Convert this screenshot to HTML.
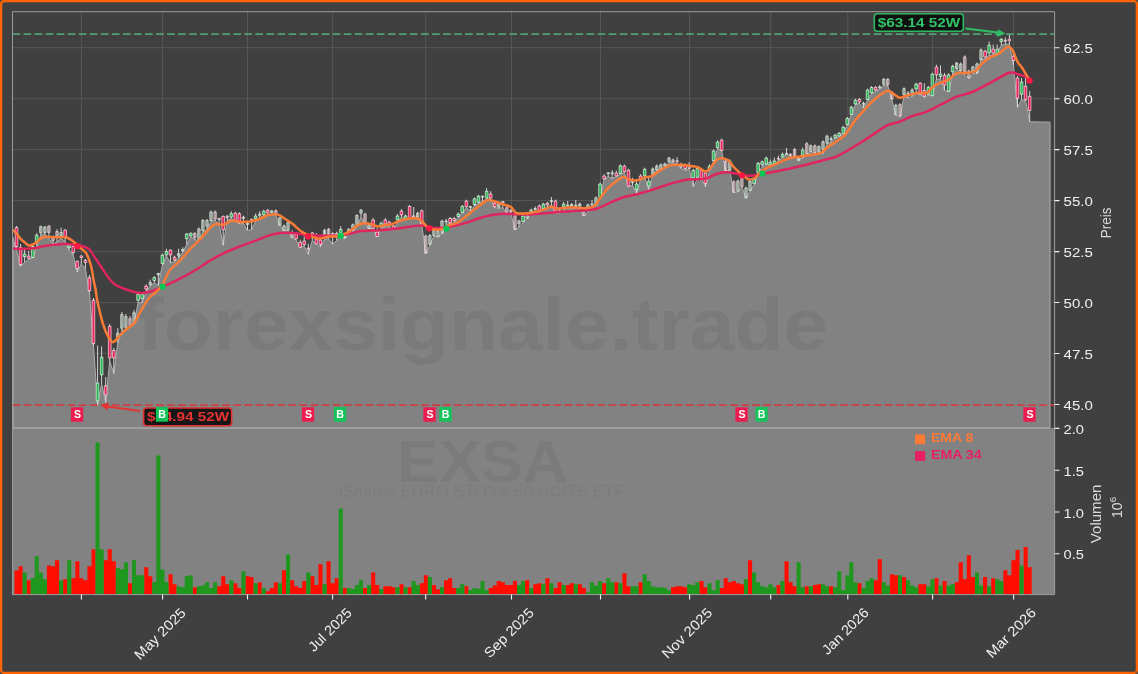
<!DOCTYPE html>
<html><head><meta charset="utf-8"><title>EXSA</title>
<style>html,body{margin:0;padding:0;background:#4a4a4a;width:1138px;height:674px;overflow:hidden;font-family:"Liberation Sans",sans-serif}</style>
</head><body>
<svg width="1138" height="674" viewBox="0 0 1138 674" style="position:absolute;left:0;top:0;will-change:transform;font-family:'Liberation Sans',sans-serif">
<defs><clipPath id="cu"><rect x="12.5" y="11.7" width="1042.1" height="416.0"/></clipPath></defs>
<rect x="0" y="0" width="1138" height="674" fill="#4a4a4a"/>
<rect x="1.1" y="1.1" width="1135.8" height="671.8" rx="3" ry="3" fill="#404040" stroke="#ff6302" stroke-width="2.3"/>
<path d="M81.4 11.7V427.7M162.6 11.7V427.7M247.5 11.7V427.7M332.6 11.7V427.7M425.7 11.7V427.7M511.5 11.7V427.7M600.5 11.7V427.7M689.6 11.7V427.7M770.7 11.7V427.7M847.8 11.7V427.7M932.6 11.7V427.7M1013.6 11.7V427.7M12.5 47.7H1054.6M12.5 98.7H1054.6M12.5 149.6H1054.6M12.5 200.6H1054.6M12.5 251.6H1054.6M12.5 302.5H1054.6M12.5 353.5H1054.6M12.5 404.5H1054.6" stroke="#575757" stroke-width="1" fill="none"/>
<rect x="12.5" y="427.7" width="1042.1" height="166.90000000000003" fill="#828282"/>
<g clip-path="url(#cu)"><path d="M12.5 237 L16.5 250 L20.6 266.5 L24.6 262.4 L28.7 259.2 L32.7 258 L36.8 247 L40.8 235.1 L44.9 233.9 L48.9 238.4 L53 243.7 L57 242 L61.1 238.4 L65.1 241.5 L69.2 250.5 L73.2 254.9 L77.3 272.2 L81.3 264 L85.4 268.4 L89.4 292.5 L93.5 345.5 L97.6 405.3 L101.6 384 L105.7 402.4 L109.7 361 L113.8 373.5 L117.8 342.7 L121.9 331 L125.9 329 L130 326.3 L134 324.7 L138.1 302.2 L142.1 303 L146.2 291.3 L150.2 286 L154.3 282.5 L158.3 285.4 L162.4 265 L166.4 255.8 L170.5 262.8 L174.6 261.4 L178.6 257.9 L182.7 252.2 L186.7 244.5 L190.8 236.7 L194.8 239.5 L198.9 241 L202.9 231.8 L207 229.7 L211 221.2 L215.1 220.5 L219.1 224 L223.2 245.2 L227.2 220.5 L231.3 218.4 L235.3 221.2 L239.4 224 L243.4 223.3 L247.5 230.4 L251.6 229.7 L255.6 221.2 L259.7 217.7 L263.7 215.7 L267.8 214.7 L271.8 214.6 L275.9 215.2 L279.9 225.3 L284 231 L288 230.4 L292.1 237.9 L296.1 239.8 L300.2 247.4 L304.2 246.1 L308.3 254.3 L312.3 240.4 L316.4 244.2 L320.4 246.8 L324.5 239.2 L328.6 238.6 L332.6 244.2 L336.7 240.4 L340.7 236.7 L344.8 238.6 L348.8 233.5 L352.9 231.6 L356.9 226.6 L361 217.1 L365 223.4 L369.1 228.5 L373.1 228.5 L377.2 236.7 L381.2 227.8 L385.3 226.6 L389.3 227.2 L393.4 230 L397.4 222.5 L401.5 216.6 L405.5 219.7 L409.6 219.1 L413.7 217.8 L417.7 217.8 L421.8 224.8 L425.8 253.8 L429.9 245 L433.9 236.1 L438 236.8 L442 233.6 L446.1 224.1 L450.1 223.5 L454.2 222.9 L458.2 217.2 L462.3 212.8 L466.3 207.7 L470.4 210.9 L474.4 205.9 L478.5 203.3 L482.5 201.4 L486.6 198.9 L490.7 198.9 L494.7 207.7 L498.8 208.4 L502.8 207.7 L506.9 213.4 L510.9 213.4 L515 229.8 L519 227.1 L523.1 222.3 L527.1 218.3 L531.2 214.3 L535.2 213.1 L539.3 211.8 L543.3 209.3 L547.4 206.8 L551.4 205.5 L555.5 213.1 L559.5 213.1 L563.6 209.3 L567.7 208.6 L571.7 209.3 L575.8 208.6 L579.8 209.3 L583.9 216.2 L587.9 211.8 L592 206.8 L596 205.5 L600.1 197.9 L604.1 179.6 L608.2 176.5 L612.2 178.4 L616.3 176.5 L620.3 174 L624.4 172.7 L628.4 186.6 L632.5 185.3 L636.5 193.5 L640.6 179.6 L644.7 176.5 L648.7 190.4 L652.8 174.4 L656.8 170.3 L660.9 169.1 L664.9 167.2 L669 162.2 L673 162.8 L677.1 163.5 L681.1 168.5 L685.2 170.4 L689.2 168.5 L693.3 186.8 L697.3 179.2 L701.4 178.6 L705.4 186.8 L709.5 170.4 L713.5 160.9 L717.6 148.3 L721.7 150.9 L725.7 171 L729.8 170.4 L733.8 192.5 L737.9 191.8 L741.9 186.8 L746 198.1 L750 191.2 L754.1 184.3 L758.1 173.6 L762.2 166.6 L766.2 164.1 L770.3 165.4 L774.3 163.5 L778.4 160.9 L782.4 157.7 L786.5 153.9 L790.5 156.3 L794.6 157 L798.7 158.9 L802.7 158.2 L806.8 154.5 L810.8 151.9 L814.9 153.8 L818.9 152.6 L823 153.8 L827 143.7 L831.1 142.5 L835.1 138.1 L839.2 136.2 L843.2 133.6 L847.3 124.8 L851.3 114.7 L855.4 104.6 L859.4 103.4 L863.5 107.8 L867.5 100.2 L871.6 93.9 L875.7 91.4 L879.7 88.9 L883.8 85.1 L887.8 85.7 L891.9 99.6 L895.9 115.4 L900 116.6 L904 96.4 L908.1 97.7 L912.1 96.5 L916.2 91.7 L920.2 94.3 L924.3 97.4 L928.3 95.1 L932.4 95.9 L936.4 79.5 L940.5 78.7 L944.5 90.4 L948.6 92 L952.7 74.8 L956.7 69.4 L960.8 71.7 L964.8 74.8 L968.9 78.7 L972.9 73.3 L977 74.1 L981 60 L985.1 58.5 L989.1 55.4 L993.2 54.6 L997.2 53 L1001.3 45.2 L1005.3 44.5 L1009.4 43.7 L1013.4 64.9 L1017.5 107.4 L1021.5 99.8 L1025.6 100.8 L1029.7 121.8 L1050 122.2 L1050.0 427.7 L12.5 427.7 Z" fill="#828282"/>
<path d="M12.5 237 L16.5 250 L20.6 266.5 L24.6 262.4 L28.7 259.2 L32.7 258 L36.8 247 L40.8 235.1 L44.9 233.9 L48.9 238.4 L53 243.7 L57 242 L61.1 238.4 L65.1 241.5 L69.2 250.5 L73.2 254.9 L77.3 272.2 L81.3 264 L85.4 268.4 L89.4 292.5 L93.5 345.5 L97.6 405.3 L101.6 384 L105.7 402.4 L109.7 361 L113.8 373.5 L117.8 342.7 L121.9 331 L125.9 329 L130 326.3 L134 324.7 L138.1 302.2 L142.1 303 L146.2 291.3 L150.2 286 L154.3 282.5 L158.3 285.4 L162.4 265 L166.4 255.8 L170.5 262.8 L174.6 261.4 L178.6 257.9 L182.7 252.2 L186.7 244.5 L190.8 236.7 L194.8 239.5 L198.9 241 L202.9 231.8 L207 229.7 L211 221.2 L215.1 220.5 L219.1 224 L223.2 245.2 L227.2 220.5 L231.3 218.4 L235.3 221.2 L239.4 224 L243.4 223.3 L247.5 230.4 L251.6 229.7 L255.6 221.2 L259.7 217.7 L263.7 215.7 L267.8 214.7 L271.8 214.6 L275.9 215.2 L279.9 225.3 L284 231 L288 230.4 L292.1 237.9 L296.1 239.8 L300.2 247.4 L304.2 246.1 L308.3 254.3 L312.3 240.4 L316.4 244.2 L320.4 246.8 L324.5 239.2 L328.6 238.6 L332.6 244.2 L336.7 240.4 L340.7 236.7 L344.8 238.6 L348.8 233.5 L352.9 231.6 L356.9 226.6 L361 217.1 L365 223.4 L369.1 228.5 L373.1 228.5 L377.2 236.7 L381.2 227.8 L385.3 226.6 L389.3 227.2 L393.4 230 L397.4 222.5 L401.5 216.6 L405.5 219.7 L409.6 219.1 L413.7 217.8 L417.7 217.8 L421.8 224.8 L425.8 253.8 L429.9 245 L433.9 236.1 L438 236.8 L442 233.6 L446.1 224.1 L450.1 223.5 L454.2 222.9 L458.2 217.2 L462.3 212.8 L466.3 207.7 L470.4 210.9 L474.4 205.9 L478.5 203.3 L482.5 201.4 L486.6 198.9 L490.7 198.9 L494.7 207.7 L498.8 208.4 L502.8 207.7 L506.9 213.4 L510.9 213.4 L515 229.8 L519 227.1 L523.1 222.3 L527.1 218.3 L531.2 214.3 L535.2 213.1 L539.3 211.8 L543.3 209.3 L547.4 206.8 L551.4 205.5 L555.5 213.1 L559.5 213.1 L563.6 209.3 L567.7 208.6 L571.7 209.3 L575.8 208.6 L579.8 209.3 L583.9 216.2 L587.9 211.8 L592 206.8 L596 205.5 L600.1 197.9 L604.1 179.6 L608.2 176.5 L612.2 178.4 L616.3 176.5 L620.3 174 L624.4 172.7 L628.4 186.6 L632.5 185.3 L636.5 193.5 L640.6 179.6 L644.7 176.5 L648.7 190.4 L652.8 174.4 L656.8 170.3 L660.9 169.1 L664.9 167.2 L669 162.2 L673 162.8 L677.1 163.5 L681.1 168.5 L685.2 170.4 L689.2 168.5 L693.3 186.8 L697.3 179.2 L701.4 178.6 L705.4 186.8 L709.5 170.4 L713.5 160.9 L717.6 148.3 L721.7 150.9 L725.7 171 L729.8 170.4 L733.8 192.5 L737.9 191.8 L741.9 186.8 L746 198.1 L750 191.2 L754.1 184.3 L758.1 173.6 L762.2 166.6 L766.2 164.1 L770.3 165.4 L774.3 163.5 L778.4 160.9 L782.4 157.7 L786.5 153.9 L790.5 156.3 L794.6 157 L798.7 158.9 L802.7 158.2 L806.8 154.5 L810.8 151.9 L814.9 153.8 L818.9 152.6 L823 153.8 L827 143.7 L831.1 142.5 L835.1 138.1 L839.2 136.2 L843.2 133.6 L847.3 124.8 L851.3 114.7 L855.4 104.6 L859.4 103.4 L863.5 107.8 L867.5 100.2 L871.6 93.9 L875.7 91.4 L879.7 88.9 L883.8 85.1 L887.8 85.7 L891.9 99.6 L895.9 115.4 L900 116.6 L904 96.4 L908.1 97.7 L912.1 96.5 L916.2 91.7 L920.2 94.3 L924.3 97.4 L928.3 95.1 L932.4 95.9 L936.4 79.5 L940.5 78.7 L944.5 90.4 L948.6 92 L952.7 74.8 L956.7 69.4 L960.8 71.7 L964.8 74.8 L968.9 78.7 L972.9 73.3 L977 74.1 L981 60 L985.1 58.5 L989.1 55.4 L993.2 54.6 L997.2 53 L1001.3 45.2 L1005.3 44.5 L1009.4 43.7 L1013.4 64.9 L1017.5 107.4 L1021.5 99.8 L1025.6 100.8 L1029.7 121.8 L1050 122.2 L1050.0 427.9 L13.1 427.9 L13.1 237" fill="none" stroke="#adadad" stroke-width="1" stroke-linejoin="round"/></g>
<text x="137" y="350" font-size="75" font-weight="bold" fill="#000" fill-opacity="0.055" textLength="691" lengthAdjust="spacingAndGlyphs">forexsignale.trade</text>
<text x="397" y="482" font-size="59" font-weight="bold" fill="#000" fill-opacity="0.05" textLength="171" lengthAdjust="spacingAndGlyphs">EXSA</text>
<text x="339" y="496.5" font-size="17" fill="#000" fill-opacity="0.045" textLength="285" lengthAdjust="spacingAndGlyphs">iShares EURO STOXX 50 UCITS ETF</text>
<path d="M14.5 594.6v-24.2h4.1V594.6zM18.5 594.6v-28.3h4.1V594.6zM26.6 594.6v-14.4h4.1V594.6zM46.9 594.6v-29.1h4.1V594.6zM50.9 594.6v-28.3h4.1V594.6zM55 594.6v-34.4h4.1V594.6zM63.1 594.6v-15.4h4.1V594.6zM71.2 594.6v-16.3h4.1V594.6zM75.3 594.6v-33.4h4.1V594.6zM79.3 594.6v-16.3h4.1V594.6zM83.4 594.6v-14.4h4.1V594.6zM87.4 594.6v-28.3h4.1V594.6zM91.5 594.6v-45.4h4.1V594.6zM103.6 594.6v-34.4h4.1V594.6zM107.7 594.6v-45.4h4.1V594.6zM111.7 594.6v-33.4h4.1V594.6zM127.9 594.6v-11.4h4.1V594.6zM144.2 594.6v-27.4h4.1V594.6zM148.2 594.6v-18.4h4.1V594.6zM168.5 594.6v-20.3h4.1V594.6zM172.5 594.6v-10.4h4.1V594.6zM192.8 594.6v-7.4h4.1V594.6zM217.1 594.6v-8.4h4.1V594.6zM221.2 594.6v-18.4h4.1V594.6zM225.2 594.6v-10.4h4.1V594.6zM233.3 594.6v-11.4h4.1V594.6zM237.4 594.6v-6.5h4.1V594.6zM245.5 594.6v-18.4h4.1V594.6zM249.5 594.6v-17.6h4.1V594.6zM257.6 594.6v-12.3h4.1V594.6zM265.7 594.6v-3.4h4.1V594.6zM269.8 594.6v-6.5h4.1V594.6zM273.8 594.6v-12.3h4.1V594.6zM281.9 594.6v-24.3h4.1V594.6zM290.1 594.6v-14.4h4.1V594.6zM294.1 594.6v-8.4h4.1V594.6zM298.2 594.6v-6.5h4.1V594.6zM302.2 594.6v-13.5h4.1V594.6zM310.3 594.6v-18.4h4.1V594.6zM314.4 594.6v-9.5h4.1V594.6zM318.4 594.6v-30.4h4.1V594.6zM326.5 594.6v-33.4h4.1V594.6zM330.6 594.6v-11.4h4.1V594.6zM334.6 594.6v-16.3h4.1V594.6zM342.7 594.6v-6.5h4.1V594.6zM363 594.6v-6.5h4.1V594.6zM371.1 594.6v-22.1h4.1V594.6zM375.2 594.6v-9.5h4.1V594.6zM383.3 594.6v-8.4h4.1V594.6zM387.3 594.6v-8.4h4.1V594.6zM391.4 594.6v-7.4h4.1V594.6zM399.5 594.6v-10.4h4.1V594.6zM407.6 594.6v-7.4h4.1V594.6zM419.7 594.6v-11.4h4.1V594.6zM423.8 594.6v-19.4h4.1V594.6zM431.9 594.6v-9.5h4.1V594.6zM435.9 594.6v-5.3h4.1V594.6zM444 594.6v-14.4h4.1V594.6zM448.1 594.6v-16.3h4.1V594.6zM452.2 594.6v-6.5h4.1V594.6zM464.3 594.6v-8.4h4.1V594.6zM488.6 594.6v-6.5h4.1V594.6zM492.7 594.6v-9.2h4.1V594.6zM496.7 594.6v-13.5h4.1V594.6zM500.8 594.6v-12.3h4.1V594.6zM504.8 594.6v-9.5h4.1V594.6zM508.9 594.6v-9.5h4.1V594.6zM512.9 594.6v-13.5h4.1V594.6zM525.1 594.6v-14.4h4.1V594.6zM533.2 594.6v-10.4h4.1V594.6zM537.3 594.6v-11.4h4.1V594.6zM545.4 594.6v-16.3h4.1V594.6zM553.5 594.6v-6.5h4.1V594.6zM557.5 594.6v-12.3h4.1V594.6zM565.6 594.6v-9.5h4.1V594.6zM569.7 594.6v-11.4h4.1V594.6zM577.8 594.6v-10.4h4.1V594.6zM581.8 594.6v-6.5h4.1V594.6zM602.1 594.6v-11.4h4.1V594.6zM614.3 594.6v-12.3h4.1V594.6zM622.4 594.6v-21.3h4.1V594.6zM626.4 594.6v-8.4h4.1V594.6zM638.6 594.6v-12.3h4.1V594.6zM671 594.6v-7.4h4.1V594.6zM675 594.6v-8.4h4.1V594.6zM679.1 594.6v-8.4h4.1V594.6zM683.2 594.6v-7.4h4.1V594.6zM699.4 594.6v-13.5h4.1V594.6zM703.4 594.6v-7.4h4.1V594.6zM719.6 594.6v-6.5h4.1V594.6zM723.7 594.6v-16.3h4.1V594.6zM727.7 594.6v-12.3h4.1V594.6zM731.8 594.6v-13.5h4.1V594.6zM735.8 594.6v-11.4h4.1V594.6zM739.9 594.6v-10.4h4.1V594.6zM748 594.6v-34.4h4.1V594.6zM776.4 594.6v-9.5h4.1V594.6zM784.5 594.6v-33.4h4.1V594.6zM788.5 594.6v-12.3h4.1V594.6zM792.6 594.6v-8.4h4.1V594.6zM804.7 594.6v-8.4h4.1V594.6zM812.8 594.6v-9.5h4.1V594.6zM816.9 594.6v-10.4h4.1V594.6zM829 594.6v-8.4h4.1V594.6zM857.4 594.6v-11.4h4.1V594.6zM873.6 594.6v-14.4h4.1V594.6zM877.7 594.6v-35.4h4.1V594.6zM889.8 594.6v-20.3h4.1V594.6zM893.9 594.6v-19.4h4.1V594.6zM902 594.6v-17.6h4.1V594.6zM918.2 594.6v-10.4h4.1V594.6zM922.3 594.6v-10.4h4.1V594.6zM934.4 594.6v-16.3h4.1V594.6zM942.5 594.6v-13.5h4.1V594.6zM954.7 594.6v-12.3h4.1V594.6zM958.7 594.6v-32.3h4.1V594.6zM962.8 594.6v-15.4h4.1V594.6zM966.8 594.6v-39.4h4.1V594.6zM970.9 594.6v-17.6h4.1V594.6zM983 594.6v-17.6h4.1V594.6zM991.2 594.6v-16.3h4.1V594.6zM1003.3 594.6v-24.3h4.1V594.6zM1007.4 594.6v-19.4h4.1V594.6zM1011.4 594.6v-34.4h4.1V594.6zM1015.5 594.6v-44.5h4.1V594.6zM1023.6 594.6v-47.6h4.1V594.6zM1027.6 594.6v-27.4h4.1V594.6z" fill="#ff0d00"/>
<path d="M22.6 594.6v-22.1h4.1V594.6zM30.7 594.6v-16.6h4.1V594.6zM34.7 594.6v-38.4h4.1V594.6zM38.8 594.6v-22.1h4.1V594.6zM42.8 594.6v-15.4h4.1V594.6zM59.1 594.6v-14.4h4.1V594.6zM67.2 594.6v-34.4h4.1V594.6zM95.5 594.6v-152h4.1V594.6zM99.6 594.6v-45.4h4.1V594.6zM115.8 594.6v-26.4h4.1V594.6zM119.8 594.6v-25.4h4.1V594.6zM123.9 594.6v-32.3h4.1V594.6zM132 594.6v-34.4h4.1V594.6zM136.1 594.6v-19.4h4.1V594.6zM140.1 594.6v-19.4h4.1V594.6zM152.3 594.6v-12.5h4.1V594.6zM156.3 594.6v-139.1h4.1V594.6zM160.4 594.6v-25.2h4.1V594.6zM164.4 594.6v-12.5h4.1V594.6zM176.6 594.6v-8.4h4.1V594.6zM180.6 594.6v-7.4h4.1V594.6zM184.7 594.6v-18.4h4.1V594.6zM188.7 594.6v-19.4h4.1V594.6zM196.8 594.6v-8.4h4.1V594.6zM200.9 594.6v-9.2h4.1V594.6zM204.9 594.6v-12.3h4.1V594.6zM209 594.6v-6.5h4.1V594.6zM213.1 594.6v-12.3h4.1V594.6zM229.3 594.6v-14.4h4.1V594.6zM241.4 594.6v-23.4h4.1V594.6zM253.6 594.6v-11.4h4.1V594.6zM261.7 594.6v-6.5h4.1V594.6zM277.9 594.6v-11.4h4.1V594.6zM286 594.6v-40.2h4.1V594.6zM306.3 594.6v-22.1h4.1V594.6zM322.5 594.6v-10.4h4.1V594.6zM338.7 594.6v-86.1h4.1V594.6zM346.8 594.6v-6.5h4.1V594.6zM350.8 594.6v-5.5h4.1V594.6zM354.9 594.6v-9.5h4.1V594.6zM358.9 594.6v-14.4h4.1V594.6zM367 594.6v-9.5h4.1V594.6zM379.2 594.6v-5.5h4.1V594.6zM395.4 594.6v-7.4h4.1V594.6zM403.5 594.6v-7.4h4.1V594.6zM411.6 594.6v-13.5h4.1V594.6zM415.7 594.6v-9.5h4.1V594.6zM427.8 594.6v-17.6h4.1V594.6zM440 594.6v-7.4h4.1V594.6zM456.2 594.6v-6.5h4.1V594.6zM460.3 594.6v-10.4h4.1V594.6zM468.4 594.6v-4.3h4.1V594.6zM472.4 594.6v-6.5h4.1V594.6zM476.5 594.6v-5.8h4.1V594.6zM480.5 594.6v-13.5h4.1V594.6zM484.6 594.6v-4.3h4.1V594.6zM517 594.6v-9.5h4.1V594.6zM521 594.6v-13.5h4.1V594.6zM529.2 594.6v-6.5h4.1V594.6zM541.3 594.6v-10.4h4.1V594.6zM549.4 594.6v-11.4h4.1V594.6zM561.6 594.6v-9.5h4.1V594.6zM573.7 594.6v-10.4h4.1V594.6zM585.9 594.6v-2.4h4.1V594.6zM589.9 594.6v-12.3h4.1V594.6zM594 594.6v-9.2h4.1V594.6zM598 594.6v-13.5h4.1V594.6zM606.2 594.6v-16.3h4.1V594.6zM610.2 594.6v-12.3h4.1V594.6zM618.3 594.6v-11.4h4.1V594.6zM630.5 594.6v-8.4h4.1V594.6zM634.5 594.6v-8.4h4.1V594.6zM642.6 594.6v-20.3h4.1V594.6zM646.7 594.6v-13.5h4.1V594.6zM650.7 594.6v-8.4h4.1V594.6zM654.8 594.6v-7.4h4.1V594.6zM658.8 594.6v-7.4h4.1V594.6zM662.9 594.6v-6.5h4.1V594.6zM666.9 594.6v-4.3h4.1V594.6zM687.2 594.6v-10.4h4.1V594.6zM691.3 594.6v-9.5h4.1V594.6zM695.3 594.6v-12.3h4.1V594.6zM707.5 594.6v-11.4h4.1V594.6zM711.5 594.6v-4.3h4.1V594.6zM715.6 594.6v-14.4h4.1V594.6zM743.9 594.6v-15.4h4.1V594.6zM752 594.6v-22.1h4.1V594.6zM756.1 594.6v-12.3h4.1V594.6zM760.2 594.6v-8.4h4.1V594.6zM764.2 594.6v-7.4h4.1V594.6zM768.3 594.6v-10.4h4.1V594.6zM772.3 594.6v-7.4h4.1V594.6zM780.4 594.6v-13.5h4.1V594.6zM796.6 594.6v-32.3h4.1V594.6zM800.7 594.6v-7.4h4.1V594.6zM808.8 594.6v-8.4h4.1V594.6zM820.9 594.6v-10.4h4.1V594.6zM825 594.6v-8.4h4.1V594.6zM833.1 594.6v-7.4h4.1V594.6zM837.2 594.6v-23.4h4.1V594.6zM841.2 594.6v-4.3h4.1V594.6zM845.3 594.6v-19.4h4.1V594.6zM849.3 594.6v-32.3h4.1V594.6zM853.4 594.6v-12.3h4.1V594.6zM861.5 594.6v-6.5h4.1V594.6zM865.5 594.6v-13.5h4.1V594.6zM869.6 594.6v-16.3h4.1V594.6zM881.7 594.6v-12.3h4.1V594.6zM885.8 594.6v-9.2h4.1V594.6zM897.9 594.6v-19.4h4.1V594.6zM906 594.6v-14.4h4.1V594.6zM910.1 594.6v-9.2h4.1V594.6zM914.2 594.6v-7.4h4.1V594.6zM926.3 594.6v-8.4h4.1V594.6zM930.4 594.6v-15.4h4.1V594.6zM938.5 594.6v-9.2h4.1V594.6zM946.6 594.6v-9.2h4.1V594.6zM950.6 594.6v-10.4h4.1V594.6zM974.9 594.6v-22.1h4.1V594.6zM979 594.6v-9.2h4.1V594.6zM987.1 594.6v-8.4h4.1V594.6zM995.2 594.6v-15.4h4.1V594.6zM999.3 594.6v-13.5h4.1V594.6zM1019.5 594.6v-29.1h4.1V594.6z" fill="#1f971f"/>
<g clip-path="url(#cu)"><path d="M16.5 226V250M20.6 244V266.5M24.6 248.5V262.4M28.7 251V259.2M32.7 245V258M36.8 233V247M40.8 225.7V235.1M44.9 226.1V233.9M48.9 225.2V238.4M53 235.5V243.7M57 229.2V242M61.1 227.5V238.4M65.1 229V241.5M69.2 244.8V250.5M73.2 245.3V254.9M77.3 260.4V272.2M81.3 255.1V264M85.4 259V268.4M89.4 275V292.5M93.5 298V345.5M97.6 345.6V405.3M101.6 346.5V384M105.7 377V402.4M109.7 324V361M113.8 348V373.5M117.8 328.2V342.7M121.9 312V331M125.9 314V329M130 316V326.3M134 310V324.7M138.1 292V302.2M142.1 292.3V303M146.2 284.5V291.3M150.2 279.7V286M154.3 276.1V282.5M158.3 272.7V285.4M162.4 253.6V265M166.4 248.7V255.8M170.5 249.4V262.8M174.6 255.7V261.4M178.6 248.7V257.9M182.7 247.3V252.2M186.7 233.2V244.5M190.8 232.5V236.7M194.8 232.5V239.5M198.9 227.5V241M202.9 219V231.8M207 219V229.7M211 210.5V221.2M215.1 210.5V220.5M219.1 217.7V224M223.2 215.6V245.2M227.2 214.9V220.5M231.3 211.3V218.4M235.3 211.7V221.2M239.4 212.2V224M243.4 215.6V223.3M247.5 221.9V230.4M251.6 219V229.7M255.6 213.5V221.2M259.7 211.3V217.7M263.7 209.8V215.7M267.8 208.9V214.7M271.8 210.2V214.6M275.9 209.4V215.2M279.9 216.5V225.3M284 224.5V231M288 221.4V230.4M292.1 230.2V237.9M296.1 233V239.8M300.2 239.6V247.4M304.2 236.5V246.1M308.3 243.6V254.3M312.3 232V240.4M316.4 232.9V244.2M320.4 238V246.8M324.5 228.9V239.2M328.6 227.9V238.6M332.6 232.5V244.2M336.7 231.6V240.4M340.7 226.2V236.7M344.8 235V238.6M348.8 228V233.5M352.9 223.5V231.6M356.9 214.2V226.6M361 209V217.1M365 212.8V223.4M369.1 223.9V228.5M373.1 218.1V228.5M377.2 227.9V236.7M381.2 221.7V227.8M385.3 218.1V226.6M389.3 220.8V227.2M393.4 224.8V230M397.4 214.1V222.5M401.5 209.2V216.6M405.5 214.6V219.7M409.6 205V219.1M413.7 207V217.8M417.7 211.9V217.8M421.8 209.5V224.8M425.8 234.6V253.8M429.9 234V245M433.9 229.1V236.1M438 230V236.8M442 219.7V233.6M446.1 218.8V224.1M450.1 217.1V223.5M454.2 217.1V222.9M458.2 212.6V217.2M462.3 205.1V212.8M466.3 199.7V207.7M470.4 206V210.9M474.4 197.5V205.9M478.5 194.8V203.3M482.5 195.6V201.4M486.6 188.1V198.9M490.7 191.2V198.9M494.7 201.9V207.7M498.8 202.8V208.4M502.8 201V207.7M506.9 206.4V213.4M510.9 209.1V213.4M515 214.4V229.8M519 219.7V227.1M523.1 214.8V222.3M527.1 213.9V218.3M531.2 208.6V214.3M535.2 206.4V213.1M539.3 204.6V211.8M543.3 202.8V209.3M547.4 201.9V206.8M551.4 197V205.5M555.5 199.6V213.1M559.5 208.6V213.1M563.6 201.9V209.3M567.7 201V208.6M571.7 203V209.3M575.8 200V208.6M579.8 202.7V209.3M583.9 208V216.2M587.9 203.6V211.8M592 200V206.8M596 196.5V205.5M600.1 182.5V197.9M604.1 174.2V179.6M608.2 172V176.5M612.2 170.2V178.4M616.3 170.7V176.5M620.3 164.3V174M624.4 164.6V172.7M628.4 168.7V186.6M632.5 177.8V185.3M636.5 181V193.5M640.6 174.2V179.6M644.7 167.7V176.5M648.7 178V190.4M652.8 167.4V174.4M656.8 164.5V170.3M660.9 163.5V169.1M664.9 162.6V167.2M669 156.8V162.2M673 158.6V162.8M677.1 157.2V163.5M681.1 162.6V168.5M685.2 163.5V170.4M689.2 162.1V168.5M693.3 168.9V186.8M697.3 167V179.2M701.4 168.9V178.6M705.4 171.4V186.8M709.5 164.4V170.4M713.5 149.4V160.9M717.6 140.5V148.3M721.7 138.6V150.9M725.7 159.5V171M729.8 159.5V170.4M733.8 180.3V192.5M737.9 179.6V191.8M741.9 177.1V186.8M746 186.5V198.1M750 179.6V191.2M754.1 177.7V184.3M758.1 162V173.6M762.2 160.5V166.6M766.2 156.5V164.1M770.3 159.6V165.4M774.3 157.4V163.6M778.4 155.6V160.9M782.4 152.5V157.7M786.5 148V154.3M790.5 153.4V156.3M794.6 147.9V157M798.7 157V160.5M802.7 147.6V158.2M806.8 142.2V154.5M810.8 144.5V151.9M814.9 144.5V153.8M818.9 145.4V152.6M823 140.3V153.8M827 134.7V143.7M831.1 136.5V142.5M835.1 133.8V138.1M839.2 132V136.2M843.2 125.8V133.6M847.3 117V124.8M851.3 105.7V114.7M855.4 98.7V104.6M859.4 98V103.4M863.5 101.6V107.8M867.5 88.6V100.2M871.6 86.1V93.9M875.7 86V91.4M879.7 85.1V88.9M883.8 78V85.1M887.8 78V85.7M891.9 91.2V99.6M895.9 103.8V115.4M900 103.1V116.6M904 87.4V96.4M908.1 91V97.7M912.1 88.2V96.5M916.2 82.7V91.7M920.2 82V94.3M924.3 83.3V97.4M928.3 85.8V95.1M932.4 72.6V95.9M936.4 64.7V79.5M940.5 65.5V78.7M944.5 73V90.4M948.6 73.3V92M952.7 64.8V74.8M956.7 62V69.4M960.8 62.4V71.7M964.8 55.4V74.8M968.9 69.7V78.7M972.9 65.7V73.3M977 62.4V74.1M981 48.4V60M985.1 49.7V58.5M989.1 41.5V55.4M993.2 44.5V54.6M997.2 44.5V53M1001.3 38V45.2M1005.3 37.5V44.5M1009.4 34.3V43.7M1013.4 52V64.9M1017.5 76V107.4M1021.5 78V99.8M1025.6 78V100.8M1029.7 91.2V121.8" stroke="#e2e2e2" stroke-width="0.9" fill="none"/>
<path d="M15.2 227.5h2.7V246.5h-2.7zM19.2 247.5h2.7V264.4h-2.7zM27.3 256h2.7V258.2h-2.7zM63.8 230.1h2.7V237.3h-2.7zM71.9 246.2h2.7V252.4h-2.7zM75.9 261.3h2.7V268.4h-2.7zM80 256h2.7V257.5h-2.7zM84 260.4h2.7V262.6h-2.7zM88.1 277.8h2.7V290.8h-2.7zM92.1 300.2h2.7V343.6h-2.7zM104.3 385.7h2.7V395h-2.7zM108.4 326.3h2.7V358h-2.7zM112.4 350.4h2.7V358h-2.7zM144.8 286h2.7V289h-2.7zM169.1 250.1h2.7V255h-2.7zM173.2 257.2h2.7V260h-2.7zM221.8 216.3h2.7V229.7h-2.7zM234 213.2h2.7V220.5h-2.7zM238 213.7h2.7V222.6h-2.7zM266.4 210.2h2.7V212.9h-2.7zM294.8 234.3h2.7V238.7h-2.7zM298.8 242.3h2.7V247.2h-2.7zM302.9 240.9h2.7V244.5h-2.7zM311 232.9h2.7V234.3h-2.7zM315 239.1h2.7V244h-2.7zM319.1 240h2.7V244.5h-2.7zM331.3 233.4h2.7V235.1h-2.7zM335.3 233.4h2.7V235.1h-2.7zM371.8 219.9h2.7V228.3h-2.7zM375.8 231.9h2.7V236.4h-2.7zM383.9 219.9h2.7V223.9h-2.7zM388 222.1h2.7V225.2h-2.7zM392 226.1h2.7V228.8h-2.7zM400.1 211h2.7V215h-2.7zM408.3 206.5h2.7V218.5h-2.7zM420.4 210.8h2.7V224.1h-2.7zM448.8 218.4h2.7V222.8h-2.7zM452.8 218.4h2.7V220.6h-2.7zM465 201h2.7V206.8h-2.7zM489.3 193.9h2.7V197.9h-2.7zM493.4 203.2h2.7V206.8h-2.7zM537.9 205.9h2.7V210.4h-2.7zM546 203.2h2.7V205h-2.7zM554.1 201.1h2.7V211.2h-2.7zM602.8 176h2.7V179.1h-2.7zM614.9 172.9h2.7V176h-2.7zM623 166.1h2.7V171.7h-2.7zM627.1 170.2h2.7V186.2h-2.7zM639.3 176h2.7V178.7h-2.7zM683.8 165.2h2.7V168.4h-2.7zM700 170.4h2.7V178h-2.7zM704.1 172.9h2.7V183.6h-2.7zM720.3 140.1h2.7V150.6h-2.7zM858.1 99.4h2.7V102h-2.7zM874.3 87.3h2.7V90h-2.7zM918.9 83.3h2.7V94.3h-2.7zM922.9 90.5h2.7V96.2h-2.7zM935.1 67.1h2.7V74.8h-2.7zM943.2 75.6h2.7V85h-2.7zM983.7 51.2h2.7V56.9h-2.7zM991.8 49.1h2.7V53h-2.7zM1008 39.2h2.7V40.8h-2.7zM1012.1 56.2h2.7V60.5h-2.7zM1016.1 78h2.7V98.2h-2.7zM1024.2 86.2h2.7V99.8h-2.7zM1028.3 96.3h2.7V110.4h-2.7z" fill="#f9c3d2" stroke="#fbd9e2" stroke-width="0.6"/>
<path d="M23.3 254h2.7V256.6h-2.7zM31.4 246.5h2.7V257.5h-2.7zM35.4 235.3h2.7V241.7h-2.7zM67.8 245.3h2.7V247.5h-2.7zM96.2 383h2.7V401h-2.7zM100.3 357h2.7V375h-2.7zM136.7 294.5h2.7V300.2h-2.7zM140.8 293.8h2.7V298.8h-2.7zM152.9 277.6h2.7V280.4h-2.7zM161 255h2.7V263.5h-2.7zM165.1 251.5h2.7V255h-2.7zM185.4 233.9h2.7V238.8h-2.7zM189.4 233.2h2.7V236h-2.7zM229.9 213.7h2.7V217h-2.7zM254.3 216h2.7V218.8h-2.7zM262.4 211.1h2.7V214.7h-2.7zM339.4 229.4h2.7V232.6h-2.7zM379.9 223h2.7V225.7h-2.7zM396.1 215.9h2.7V219.9h-2.7zM404.2 215.9h2.7V219.5h-2.7zM456.9 213.9h2.7V216.6h-2.7zM460.9 206.4h2.7V212.6h-2.7zM473.1 198.8h2.7V204.6h-2.7zM477.1 196.1h2.7V202.3h-2.7zM485.3 191.2h2.7V197.9h-2.7zM521.7 216.1h2.7V221.5h-2.7zM529.8 210h2.7V211.8h-2.7zM542 204.1h2.7V208.6h-2.7zM562.3 204.1h2.7V206.8h-2.7zM598.7 184h2.7V197.3h-2.7zM619 165.8h2.7V173.3h-2.7zM635.2 184h2.7V189.7h-2.7zM643.3 169.2h2.7V175.9h-2.7zM647.4 181.3h2.7V185.9h-2.7zM691.9 170.4h2.7V178h-2.7zM696 168.5h2.7V177.3h-2.7zM708.1 166.1h2.7V169.3h-2.7zM712.2 150.9h2.7V160.6h-2.7zM716.2 142h2.7V147.7h-2.7zM752.7 179.2h2.7V183.6h-2.7zM756.8 163.5h2.7V172.9h-2.7zM760.8 161.8h2.7V164.5h-2.7zM764.9 158h2.7V164h-2.7zM768.9 162.3h2.7V164.9h-2.7zM773 160.9h2.7V163.6h-2.7zM781.1 154.3h2.7V156.9h-2.7zM801.4 150.2h2.7V155.1h-2.7zM833.8 135.1h2.7V137.8h-2.7zM837.8 133.3h2.7V136h-2.7zM841.9 127.3h2.7V133.4h-2.7zM845.9 118.5h2.7V124.6h-2.7zM850 107.2h2.7V114.5h-2.7zM854 100.2h2.7V104h-2.7zM866.2 90.1h2.7V99.6h-2.7zM870.2 87.6h2.7V92.7h-2.7zM914.8 84.2h2.7V88.9h-2.7zM927 87.3h2.7V94.3h-2.7zM931 74.1h2.7V95.7h-2.7zM939.1 74h2.7V76.4h-2.7zM947.2 74.8h2.7V91.2h-2.7zM951.3 66.3h2.7V71.7h-2.7zM987.8 45.2h2.7V53h-2.7zM995.9 49.1h2.7V53.4h-2.7zM999.9 39.3h2.7V41.4h-2.7zM1020.2 81.9h2.7V94.3h-2.7z" fill="#c6ecce" stroke="#dcf3e0" stroke-width="0.6"/>
<path d="M15.6 228h1.9V246h-1.9zM19.6 248h1.9V263.9h-1.9zM27.7 256.5h1.9V257.7h-1.9zM64.2 230.6h1.9V236.8h-1.9zM72.3 246.7h1.9V251.9h-1.9zM76.3 261.8h1.9V267.9h-1.9zM80.5 256.3h1.6V257.2h-1.6zM84.4 260.9h1.9V262.1h-1.9zM88.5 278.3h1.9V290.3h-1.9zM92.5 300.7h1.9V343.1h-1.9zM104.7 386.2h1.9V394.5h-1.9zM108.8 326.8h1.9V357.5h-1.9zM112.8 350.9h1.9V357.5h-1.9zM145.2 286.5h1.9V288.5h-1.9zM169.5 250.6h1.9V254.5h-1.9zM173.6 257.7h1.9V259.5h-1.9zM222.2 216.8h1.9V229.2h-1.9zM234.4 213.7h1.9V220h-1.9zM238.4 214.2h1.9V222.1h-1.9zM266.8 210.7h1.9V212.4h-1.9zM295.2 234.8h1.9V238.2h-1.9zM299.2 242.8h1.9V246.7h-1.9zM303.3 241.4h1.9V244h-1.9zM311.5 233.2h1.6V234h-1.6zM315.4 239.6h1.9V243.5h-1.9zM319.5 240.5h1.9V244h-1.9zM331.7 233.9h1.9V234.6h-1.9zM335.7 233.9h1.9V234.6h-1.9zM372.2 220.4h1.9V227.8h-1.9zM376.2 232.4h1.9V235.9h-1.9zM384.3 220.4h1.9V223.4h-1.9zM388.4 222.6h1.9V224.7h-1.9zM392.4 226.6h1.9V228.3h-1.9zM400.5 211.5h1.9V214.5h-1.9zM408.7 207h1.9V218h-1.9zM420.8 211.3h1.9V223.6h-1.9zM449.2 218.9h1.9V222.3h-1.9zM453.2 218.9h1.9V220.1h-1.9zM465.4 201.5h1.9V206.3h-1.9zM489.7 194.4h1.9V197.4h-1.9zM493.8 203.7h1.9V206.3h-1.9zM538.3 206.4h1.9V209.9h-1.9zM546.4 203.7h1.9V204.5h-1.9zM554.5 201.6h1.9V210.7h-1.9zM603.2 176.5h1.9V178.6h-1.9zM615.3 173.4h1.9V175.5h-1.9zM623.4 166.6h1.9V171.2h-1.9zM627.5 170.7h1.9V185.7h-1.9zM639.7 176.5h1.9V178.2h-1.9zM684.2 165.7h1.9V167.9h-1.9zM700.4 170.9h1.9V177.5h-1.9zM704.5 173.4h1.9V183.1h-1.9zM720.7 140.6h1.9V150.1h-1.9zM858.5 99.9h1.9V101.5h-1.9zM874.7 87.8h1.9V89.5h-1.9zM919.3 83.8h1.9V93.8h-1.9zM923.3 91h1.9V95.7h-1.9zM935.5 67.6h1.9V74.3h-1.9zM943.6 76.1h1.9V84.5h-1.9zM984.1 51.7h1.9V56.4h-1.9zM992.2 49.6h1.9V52.5h-1.9zM1008.6 39.5h1.6V40.5h-1.6zM1012.5 56.7h1.9V60h-1.9zM1016.5 78.5h1.9V97.7h-1.9zM1024.6 86.7h1.9V99.3h-1.9zM1028.7 96.8h1.9V109.9h-1.9z" fill="#e8265e"/><path d="M23.7 254.5h1.9V256.1h-1.9zM31.8 247h1.9V257h-1.9zM35.8 235.8h1.9V241.2h-1.9zM68.2 245.8h1.9V247h-1.9zM96.6 383.5h1.9V400.5h-1.9zM100.7 357.5h1.9V374.5h-1.9zM137.1 295h1.9V299.7h-1.9zM141.2 294.3h1.9V298.3h-1.9zM153.3 278.1h1.9V279.9h-1.9zM161.4 255.5h1.9V263h-1.9zM165.5 252h1.9V254.5h-1.9zM185.8 234.4h1.9V238.3h-1.9zM189.8 233.7h1.9V235.5h-1.9zM230.3 214.2h1.9V216.5h-1.9zM254.7 216.5h1.9V218.3h-1.9zM262.8 211.6h1.9V214.2h-1.9zM339.8 229.9h1.9V232.1h-1.9zM380.3 223.5h1.9V225.2h-1.9zM396.5 216.4h1.9V219.4h-1.9zM404.6 216.4h1.9V219h-1.9zM457.3 214.4h1.9V216.1h-1.9zM461.3 206.9h1.9V212.1h-1.9zM473.5 199.3h1.9V204.1h-1.9zM477.5 196.6h1.9V201.8h-1.9zM485.7 191.7h1.9V197.4h-1.9zM522.1 216.6h1.9V221h-1.9zM530.2 210.5h1.9V211.3h-1.9zM542.4 204.6h1.9V208.1h-1.9zM562.7 204.6h1.9V206.3h-1.9zM599.1 184.5h1.9V196.8h-1.9zM619.4 166.3h1.9V172.8h-1.9zM635.6 184.5h1.9V189.2h-1.9zM643.7 169.7h1.9V175.4h-1.9zM647.8 181.8h1.9V185.4h-1.9zM692.3 170.9h1.9V177.5h-1.9zM696.4 169h1.9V176.8h-1.9zM708.5 166.6h1.9V168.8h-1.9zM712.6 151.4h1.9V160.1h-1.9zM716.6 142.5h1.9V147.2h-1.9zM753.1 179.7h1.9V183.1h-1.9zM757.2 164h1.9V172.4h-1.9zM761.2 162.3h1.9V164h-1.9zM765.3 158.5h1.9V163.5h-1.9zM769.3 162.8h1.9V164.4h-1.9zM773.4 161.4h1.9V163.1h-1.9zM781.5 154.8h1.9V156.4h-1.9zM801.8 150.7h1.9V154.6h-1.9zM834.2 135.6h1.9V137.3h-1.9zM838.2 133.8h1.9V135.5h-1.9zM842.3 127.8h1.9V132.9h-1.9zM846.3 119h1.9V124.1h-1.9zM850.4 107.7h1.9V114h-1.9zM854.4 100.7h1.9V103.5h-1.9zM866.6 90.6h1.9V99.1h-1.9zM870.6 88.1h1.9V92.2h-1.9zM915.2 84.7h1.9V88.4h-1.9zM927.4 87.8h1.9V93.8h-1.9zM931.4 74.6h1.9V95.2h-1.9zM939.5 74.5h1.9V75.9h-1.9zM947.6 75.3h1.9V90.7h-1.9zM951.7 66.8h1.9V71.2h-1.9zM988.2 45.7h1.9V52.5h-1.9zM996.3 49.6h1.9V52.9h-1.9zM1000.3 39.8h1.9V40.9h-1.9zM1020.6 82.4h1.9V93.8h-1.9z" fill="#2fb457"/>
<path d="M47.7 226.1h2.4V232.4h-2.4zM51.8 238.3h2.4V240.4h-2.4zM55.8 231.5h2.4V235.9h-2.4zM128.8 318.6h2.4V325.3h-2.4zM193.6 233.2h2.4V237.4h-2.4zM213.9 212h2.4V219.1h-2.4zM217.9 218.4h2.4V219.8h-2.4zM226 216.3h2.4V217.7h-2.4zM242.2 217h2.4V218.5h-2.4zM250.4 219.1h2.4V220.5h-2.4zM274.7 210.7h2.4V213.3h-2.4zM290.9 233.8h2.4V237.4h-2.4zM307.1 248h2.4V249.4h-2.4zM327.4 229.2h2.4V234.7h-2.4zM363.8 214.1h2.4V222.6h-2.4zM412.5 215.8h2.4V217h-2.4zM424.6 236.1h2.4V253.2h-2.4zM501.6 201.5h2.4V203h-2.4zM505.7 207.7h2.4V212.6h-2.4zM509.7 210.4h2.4V212.1h-2.4zM513.8 215.7h2.4V229.5h-2.4zM558.3 209.9h2.4V211.7h-2.4zM582.7 212h2.4V215.5h-2.4zM671.8 159.9h2.4V161.7h-2.4zM675.9 160.7h2.4V161.7h-2.4zM679.9 165.5h2.4V167h-2.4zM688 166.1h2.4V168.4h-2.4zM724.5 161h2.4V170.8h-2.4zM732.6 181.8h2.4V192.3h-2.4zM740.7 178.6h2.4V186.5h-2.4zM777.2 158.2h2.4V159.2h-2.4zM789.3 154.2h2.4V155.2h-2.4zM793.4 149.4h2.4V156.3h-2.4zM805.6 143.7h2.4V153.8h-2.4zM813.7 145.8h2.4V152.5h-2.4zM886.6 79.3h2.4V84.7h-2.4zM890.7 92.7h2.4V99h-2.4zM898.8 104.6h2.4V116h-2.4zM963.6 56.9h2.4V71.7h-2.4zM967.7 71h2.4V77.5h-2.4zM1004.1 40.3h2.4V41.3h-2.4z" fill="#f3c9d4" fill-opacity="0.18" stroke="#f0d2da" stroke-width="0.75"/>
<path d="M39.6 226.6h2.4V232.8h-2.4zM43.7 227h2.4V232.8h-2.4zM59.9 232.4h2.4V235.5h-2.4zM116.6 333h2.4V337h-2.4zM120.7 314.7h2.4V328.2h-2.4zM124.7 316.6h2.4V327.2h-2.4zM132.8 312.8h2.4V323.4h-2.4zM149 282.5h2.4V284.5h-2.4zM157.1 273.5h2.4V275h-2.4zM177.4 253.6h2.4V255.8h-2.4zM181.5 249.4h2.4V250.8h-2.4zM197.7 229h2.4V239.5h-2.4zM201.7 220.5h2.4V230.4h-2.4zM205.8 220.5h2.4V226.1h-2.4zM209.8 212h2.4V220.5h-2.4zM246.3 223h2.4V224.5h-2.4zM258.5 214h2.4V215.4h-2.4zM270.6 210.8h2.4V212.6h-2.4zM278.7 217.8h2.4V225.3h-2.4zM282.8 226h2.4V230.5h-2.4zM286.8 222.7h2.4V230.2h-2.4zM323.3 230.2h2.4V234.3h-2.4zM343.6 236.5h2.4V237.8h-2.4zM347.6 229.3h2.4V232.8h-2.4zM351.7 224.8h2.4V230.1h-2.4zM355.7 215.5h2.4V225.2h-2.4zM359.8 210.1h2.4V213.2h-2.4zM367.9 225.2h2.4V228.3h-2.4zM416.5 213.2h2.4V217.2h-2.4zM428.7 235.5h2.4V244.3h-2.4zM432.7 230.4h2.4V235.7h-2.4zM436.8 231.3h2.4V236.6h-2.4zM440.8 221h2.4V233.4h-2.4zM444.9 221h2.4V222h-2.4zM469.2 206.4h2.4V207.4h-2.4zM481.3 196.1h2.4V197.1h-2.4zM497.6 204.1h2.4V207.2h-2.4zM517.8 221h2.4V223.7h-2.4zM525.9 215.2h2.4V218.3h-2.4zM534 208.5h2.4V209.5h-2.4zM550.2 200.5h2.4V201.5h-2.4zM566.5 205h2.4V205.9h-2.4zM570.5 204.5h2.4V206h-2.4zM574.6 205.3h2.4V206.3h-2.4zM578.6 204h2.4V206.3h-2.4zM586.7 204.9h2.4V207.6h-2.4zM590.8 203.9h2.4V204.9h-2.4zM594.8 197.8h2.4V205.3h-2.4zM607 172.8h2.4V173.8h-2.4zM611 172.8h2.4V173.8h-2.4zM631.3 180.9h2.4V182.7h-2.4zM651.6 168.9h2.4V174.4h-2.4zM655.6 166h2.4V170h-2.4zM659.7 164.8h2.4V168.8h-2.4zM663.7 163.9h2.4V166.1h-2.4zM667.8 158.1h2.4V161.7h-2.4zM728.6 161h2.4V170.2h-2.4zM736.7 181.1h2.4V191.2h-2.4zM744.8 188h2.4V197.9h-2.4zM748.8 181.1h2.4V190.6h-2.4zM785.3 153.3h2.4V154.3h-2.4zM797.5 159.1h2.4V160.5h-2.4zM809.6 145.8h2.4V151.5h-2.4zM817.7 146.7h2.4V152h-2.4zM821.8 141.8h2.4V149.4h-2.4zM825.8 136.2h2.4V143.1h-2.4zM829.9 138.6h2.4V139.6h-2.4zM862.3 103.3h2.4V104.3h-2.4zM878.5 86.8h2.4V87.8h-2.4zM882.6 79.3h2.4V84.2h-2.4zM894.7 105.3h2.4V114.7h-2.4zM902.8 88.7h2.4V94.5h-2.4zM906.9 93.1h2.4V94.5h-2.4zM910.9 90h2.4V93h-2.4zM955.5 63h2.4V68.5h-2.4zM959.6 64h2.4V70.5h-2.4zM971.7 67h2.4V72.5h-2.4zM975.8 63.9h2.4V72.5h-2.4zM979.8 49.9h2.4V59.8h-2.4z" fill="#cfe8d3" fill-opacity="0.18" stroke="#d8ebdb" stroke-width="0.75"/></g>
<path d="M12.5 34.2H1054.6" stroke="#52ab78" stroke-width="1.7" stroke-dasharray="7.7 3.34" fill="none" opacity="0.9"/>
<path d="M12.5 405.2H1054.6" stroke="#d4393d" stroke-width="1.7" stroke-dasharray="7.7 3.34" fill="none" opacity="0.9"/>
<g clip-path="url(#cu)"><path d="M12.4 248.6C13.6 248.6 16.8 248.7 19.8 248.7C22.8 248.7 27.5 248.8 30.4 248.6C33.2 248.4 34.6 248.2 36.9 247.8C39.2 247.4 41.7 246.6 44.3 246.1C46.9 245.6 49.7 245.2 52.4 244.9C55.1 244.6 58.2 244.5 60.6 244.3C63.0 244.1 64.8 243.8 67.1 243.9C69.4 244.0 71.7 244.3 74.5 244.8C77.3 245.3 81.5 245.8 84.1 246.7C86.7 247.6 88.0 248.0 89.9 250C91.8 252.0 93.5 255.4 95.7 258.8C98.0 262.1 100.8 266.6 103.4 270.3C106.0 274.0 108.7 278.4 111.1 281C113.5 283.6 114.8 284.6 117.9 286.2C121.1 287.8 126.1 289.6 130 290.8C133.9 292.0 137.5 293.1 141.3 293.1C145.1 293.1 149.1 292.1 152.6 291C156.1 289.9 158.6 288.6 162.6 286.8C166.6 285.0 171.4 283.0 176.5 280.4C181.6 277.8 187.1 275.1 193.4 271.3C199.8 267.6 207.6 261.8 214.6 257.9C221.6 254.0 228.6 250.9 235.7 248C242.8 245.1 251.2 242.3 256.9 240.2C262.6 238.0 266.1 236.3 270 235.1C273.9 233.9 276.4 233.2 280.2 232.9C284.0 232.6 288.2 232.7 292.8 233.1C297.4 233.5 302.8 234.8 307.9 235.2C312.9 235.6 317.6 235.7 323.1 235.7C328.6 235.7 336.1 235.8 340.7 235.4C345.3 235.0 347.4 234.2 350.8 233.5C354.2 232.8 357.1 231.5 360.9 231C364.7 230.5 369.3 230.8 373.5 230.6C377.7 230.4 381.7 230.1 386.1 229.7C390.5 229.3 396.8 228.7 400 228.3C403.2 227.9 401.5 227.8 405.1 227.3C408.7 226.8 417.3 225.3 421.5 225.4C425.7 225.5 427.2 227.3 430.4 227.7C433.5 228.1 436.6 228.2 440.4 227.9C444.2 227.6 448.9 226.8 453.1 226C457.3 225.2 461.5 224.2 465.7 222.9C469.9 221.7 474.1 219.8 478.3 218.5C482.5 217.2 486.7 216.1 490.9 215.3C495.1 214.5 499.3 214.0 503.5 213.8C507.7 213.6 511.7 214.2 516.1 214.3C520.5 214.4 526.2 214.6 530 214.5C533.8 214.4 534.3 214.1 538.9 213.7C543.5 213.3 551.5 212.6 557.8 212.1C564.1 211.6 570.5 211.3 576.8 210.8C583.1 210.3 590.5 210.2 595.7 209C601.0 207.8 603.7 205.5 608.3 203.6C612.9 201.7 618.1 199.0 623.4 197.3C628.6 195.6 635.0 194.8 639.8 193.5C644.6 192.2 648.6 190.9 652.4 189.7C656.2 188.5 658.8 187.4 662.6 186.2C666.4 185.0 671.0 183.5 675.2 182.4C679.4 181.3 682.8 180.1 687.8 179.5C692.8 178.9 700.9 179.5 705.5 178.6C710.1 177.7 712.2 175.2 715.6 174.2C719.0 173.1 722.3 172.4 725.7 172.3C729.1 172.2 732.4 173.0 735.8 173.6C739.2 174.2 742.1 175.5 745.9 175.7C749.7 175.9 754.3 175.4 758.5 174.8C762.7 174.2 765.9 173.4 771.1 172.3C776.4 171.2 784.4 169.7 790 168.5C795.6 167.3 799.3 166.4 805 165C810.7 163.6 818.8 161.4 824.1 160C829.4 158.6 832.6 158.1 836.8 156.3C841.0 154.5 845.2 151.8 849.4 149.4C853.6 147.0 857.8 144.4 862 141.8C866.2 139.2 870.4 136.3 874.6 133.6C878.8 130.9 883.0 127.4 887.2 125.4C891.4 123.4 895.6 123.3 899.8 121.7C904.0 120.1 908.1 117.6 912.4 116C916.7 114.4 920.8 114.1 925.6 112.2C930.4 110.3 936.0 107.0 941.2 104.4C946.4 101.8 951.5 98.8 956.7 96.7C961.9 94.6 967.1 94.1 972.3 92C977.5 89.9 983.2 86.7 987.9 84.2C992.6 81.7 996.9 79.1 1000.3 77.2C1003.7 75.3 1006.0 73.8 1008.1 73C1010.2 72.2 1011.0 72.2 1012.8 72.5C1014.6 72.8 1016.9 73.8 1019 74.5C1021.1 75.2 1023.5 75.5 1025.3 76.4C1027.1 77.3 1028.9 79.2 1029.6 79.8" stroke="#e0245e" stroke-width="2.5" fill="none" stroke-linejoin="round" stroke-linecap="round"/>
<path d="M12.4 229.8C13.1 230.4 15.1 232.0 16.5 233.5C17.9 235.0 19.2 237.3 20.6 238.8C22.0 240.3 23.4 241.3 24.7 242.4C26.0 243.5 27.0 245.0 28.4 245.3C29.8 245.7 31.5 245.1 32.9 244.5C34.3 243.9 35.5 243.0 36.9 242C38.2 241.0 39.6 239.3 41 238.4C42.4 237.5 43.5 236.9 45.1 236.7C46.7 236.5 48.8 237.0 50.8 237.1C52.8 237.2 55.1 237.3 57.3 237.3C59.5 237.3 61.9 236.8 63.9 237.1C66.0 237.3 67.8 237.9 69.6 238.8C71.4 239.7 72.9 241.1 74.5 242.5C76.1 243.9 77.4 245.4 79.3 247.2C81.2 248.9 84.1 249.9 86 253C87.9 256.1 89.6 260.8 90.9 265.5C92.2 270.2 93.0 276.9 93.8 281C94.5 285.1 95.1 286.6 95.7 290C96.3 293.4 96.2 295.5 97.4 301.2C98.6 306.9 101.2 318.2 103.1 324.3C105.0 330.4 107.2 334.8 108.9 337.8C110.6 340.8 111.6 342.2 113.2 342.1C114.8 342.0 116.4 339.0 118.6 336.9C120.8 334.8 123.7 331.4 126.3 329.2C128.9 326.9 131.8 326.1 134 323.4C136.2 320.7 137.9 316.2 139.8 312.8C141.7 309.4 143.9 305.7 145.6 303.1C147.3 300.5 148.3 298.9 150 297C151.7 295.1 153.9 294.1 156 292C158.1 289.9 160.3 288.1 162.6 284.5C164.8 280.9 166.7 274.4 169.5 270.5C172.3 266.6 175.8 265.0 179.3 261.4C182.8 257.8 187.1 252.5 190.6 248.7C194.1 244.9 197.2 242.3 200.5 238.8C203.8 235.3 207.8 230.1 210.4 227.6C213.0 225.1 213.9 224.5 216 224C218.1 223.5 220.4 225.2 223 224.7C225.6 224.2 228.7 221.3 231.5 220.8C234.3 220.3 236.9 221.8 240 221.9C243.1 222.0 247.0 221.9 249.8 221.6C252.6 221.2 254.7 220.5 256.9 219.8C259.1 219.1 261.2 218.3 263 217.5C264.8 216.7 265.2 215.7 267.6 215.2C270.1 214.7 274.8 214.0 277.7 214.6C280.6 215.2 282.7 217.4 285.2 219C287.7 220.6 290.1 222.0 292.8 224.1C295.5 226.2 298.7 229.6 301.6 231.6C304.5 233.6 307.4 234.8 310.4 236C313.3 237.2 316.4 238.5 319.3 238.6C322.2 238.7 325.0 237.1 328.1 236.7C331.2 236.3 334.8 236.8 338.2 236C341.6 235.2 345.4 233.8 348.3 232.2C351.2 230.6 353.6 228.1 355.9 226.6C358.2 225.1 359.7 223.8 362.2 223.4C364.7 223.0 368.3 223.6 371 224.1C373.7 224.6 376.1 226.5 378.6 226.6C381.1 226.7 384.0 225.0 386.1 224.7C388.2 224.4 389.1 225.1 391 224.6C392.9 224.1 394.8 222.6 397.6 221.6C400.4 220.6 404.4 219.3 407.7 218.8C411.0 218.3 415.2 217.9 417.7 218.5C420.2 219.1 421.1 220.7 422.8 222.2C424.5 223.7 425.7 226.0 427.8 227.3C429.9 228.6 432.9 229.6 435.4 229.8C437.9 230.0 440.7 229.4 443 228.6C445.3 227.8 447.0 226.1 449.3 225.2C451.6 224.2 454.1 224.3 456.8 222.9C459.5 221.5 462.5 219.0 465.7 216.6C468.9 214.2 472.4 211.0 475.8 208.4C479.2 205.8 483.4 202.2 485.9 200.8C488.4 199.4 488.8 199.9 490.9 200.2C493.0 200.5 496.0 201.9 498.5 202.7C501.0 203.5 503.9 204.5 506 205.2C508.1 205.9 509.4 205.8 511.1 207.1C512.8 208.4 514.0 211.8 516.1 212.8C518.2 213.9 521.0 213.5 523.7 213.4C526.5 213.3 529.4 213.0 532.6 212.4C535.8 211.8 539.6 210.8 542.7 209.9C545.9 209.0 549.2 207.0 551.5 206.8C553.8 206.6 553.9 208.5 556.6 208.6C559.3 208.7 564.8 207.6 567.9 207.4C571.0 207.2 573.0 207.2 575.5 207.4C578.0 207.6 580.6 208.3 583.1 208.3C585.6 208.3 588.5 208.0 590.6 207.4C592.7 206.8 594.0 206.6 595.7 204.9C597.4 203.2 598.6 200.2 600.7 197.3C602.8 194.5 605.8 190.4 608.3 187.8C610.8 185.2 613.4 183.3 615.9 181.5C618.4 179.7 621.3 177.5 623.4 177.1C625.5 176.7 626.2 178.8 628.5 179.3C630.8 179.8 634.4 180.7 637.3 180.3C640.2 179.9 643.6 177.8 646.1 177.1C648.6 176.4 650.1 177.0 652.4 175.9C654.7 174.8 657.1 172.2 660.1 170.4C663.1 168.7 666.8 166.4 670.2 165.4C673.6 164.4 676.9 164.6 680.3 164.7C683.7 164.8 687.5 165.6 690.4 166C693.3 166.4 695.4 166.3 697.9 167.2C700.4 168.1 703.4 171.3 705.5 171.4C707.6 171.5 708.6 169.9 710.5 167.9C712.4 165.9 714.9 161.3 716.8 159.7C718.7 158.1 720.0 158.1 721.9 158.2C723.8 158.3 726.1 158.7 728.2 160.3C730.3 161.9 732.4 165.7 734.5 167.9C736.6 170.1 738.5 171.7 740.8 173.6C743.1 175.5 746.1 178.5 748.4 179.2C750.7 179.9 752.6 179.2 754.7 178C756.8 176.8 758.7 173.5 761 171.7C763.3 169.9 765.7 168.7 768.6 167.2C771.5 165.7 775.7 164.1 778.6 162.8C781.5 161.5 783.7 160.4 786 159.5C788.3 158.6 789.4 158.2 792.6 157.6C795.8 157.0 800.6 156.4 805.2 155.7C809.8 155.0 816.6 154.7 820.4 153.2C824.2 151.7 825.2 148.9 827.9 146.9C830.6 144.9 833.8 143.3 836.8 141.2C839.8 139.1 842.9 137.4 845.6 134.3C848.3 131.2 850.7 126.3 853.2 122.9C855.7 119.5 858.2 117.0 860.7 114.1C863.2 111.2 865.8 107.9 868.3 105.3C870.8 102.7 873.4 100.4 875.9 98.3C878.4 96.2 881.3 94.0 883.4 92.7C885.5 91.5 886.8 90.6 888.5 90.8C890.2 91.0 891.6 92.8 893.5 93.9C895.4 95.1 897.7 97.4 899.8 97.7C901.9 98.0 903.8 96.4 906.1 95.8C908.4 95.2 911.5 94.4 913.7 93.9C915.9 93.4 917.1 93.0 919.3 92.8C921.5 92.6 924.8 93.8 927.1 92.8C929.5 91.8 931.0 88.2 933.4 86.5C935.8 84.8 938.6 83.8 941.2 82.6C943.8 81.4 946.3 81.0 948.9 79.5C951.5 78.0 953.8 74.4 956.7 73.3C959.6 72.2 963.0 73.4 966.1 73C969.2 72.6 972.8 72.5 975.4 71C978.0 69.5 979.1 66.2 981.7 63.9C984.3 61.5 988.1 58.6 991 56.9C993.9 55.2 996.5 55.2 998.8 53.8C1001.1 52.4 1003.3 49.6 1005 48.4C1006.7 47.2 1007.6 46.4 1008.9 46.8C1010.2 47.2 1011.4 48.2 1012.8 50.7C1014.2 53.2 1016.0 58.8 1017.5 61.6C1019.0 64.5 1020.6 65.5 1022.1 67.8C1023.6 70.1 1025.7 73.9 1026.8 75.6C1027.9 77.3 1028.2 77.6 1028.5 78" stroke="#f97b35" stroke-width="2.5" fill="none" stroke-linejoin="round" stroke-linecap="round"/></g>
<circle cx="77.4" cy="246.2" r="3.1" fill="#ff1744"/>
<circle cx="308.0" cy="236.4" r="3.1" fill="#ff1744"/>
<circle cx="429.3" cy="228.3" r="3.1" fill="#ff1744"/>
<circle cx="742.1" cy="175.4" r="3.1" fill="#ff1744"/>
<circle cx="1029.6" cy="80.5" r="3.1" fill="#ff1744"/>
<circle cx="162.6" cy="286.5" r="3.1" fill="#00c853"/>
<circle cx="340.7" cy="235.7" r="3.1" fill="#00c853"/>
<circle cx="446.4" cy="228.6" r="3.1" fill="#00c853"/>
<circle cx="762.5" cy="173.6" r="3.1" fill="#00c853"/>
<rect x="70.9" y="407.3" width="12.3" height="14.4" fill="#ec1c4e"/><text x="77.6" y="417.9" font-size="10.6" font-weight="bold" fill="#fff" text-anchor="middle">S</text>
<rect x="301.9" y="407.3" width="12.3" height="14.4" fill="#ec1c4e"/><text x="308.6" y="417.9" font-size="10.6" font-weight="bold" fill="#fff" text-anchor="middle">S</text>
<rect x="423.4" y="407.3" width="12.3" height="14.4" fill="#ec1c4e"/><text x="430.1" y="417.9" font-size="10.6" font-weight="bold" fill="#fff" text-anchor="middle">S</text>
<rect x="735.4" y="407.3" width="12.3" height="14.4" fill="#ec1c4e"/><text x="742.1" y="417.9" font-size="10.6" font-weight="bold" fill="#fff" text-anchor="middle">S</text>
<rect x="1023.4" y="407.3" width="12.3" height="14.4" fill="#ec1c4e"/><text x="1030.1" y="417.9" font-size="10.6" font-weight="bold" fill="#fff" text-anchor="middle">S</text>
<path d="M140 410.9L104 405.9" stroke="#e53333" stroke-width="2" fill="none"/><path d="M100.5 405.3L108.6 402.6L107.6 410.2z" fill="#e53333"/>
<rect x="143.6" y="408" width="88" height="17.8" rx="3" fill="#161616" stroke="#e03030" stroke-width="1.6"/>
<text x="188" y="421" font-size="13.3" font-weight="bold" fill="#e53333" text-anchor="middle" textLength="82" lengthAdjust="spacingAndGlyphs">$44.94 52W</text>
<rect x="155.9" y="407.1" width="12.3" height="14.6" fill="#14c35a"/><text x="162.2" y="417.7" font-size="10.6" font-weight="bold" fill="#fff" text-anchor="middle">B</text>
<rect x="333.9" y="407.1" width="12.3" height="14.6" fill="#14c35a"/><text x="340.2" y="417.7" font-size="10.6" font-weight="bold" fill="#fff" text-anchor="middle">B</text>
<rect x="439.4" y="407.1" width="12.3" height="14.6" fill="#14c35a"/><text x="445.7" y="417.7" font-size="10.6" font-weight="bold" fill="#fff" text-anchor="middle">B</text>
<rect x="755.4" y="407.1" width="12.3" height="14.6" fill="#14c35a"/><text x="761.7" y="417.7" font-size="10.6" font-weight="bold" fill="#fff" text-anchor="middle">B</text>
<path d="M965.5 28.4L1000 32.8" stroke="#2fbf65" stroke-width="2" fill="none"/><path d="M1005.6 33.5L997 36.9L998 29.2z" fill="#2fbf65"/>
<rect x="874.3" y="13.7" width="89" height="17.6" rx="3" fill="#101010" stroke="#2fb863" stroke-width="1.6"/>
<text x="919" y="26.5" font-size="13.3" font-weight="bold" fill="#2fc468" text-anchor="middle" textLength="82.5" lengthAdjust="spacingAndGlyphs">$63.14 52W</text>
<path d="M12.5 11.7H1054.6V594.6H12.5Z " stroke="#9c9c9c" stroke-width="1" fill="none"/>
<path d="M12.5 428.1H1050.3" stroke="#a2a2a2" stroke-width="1.9" fill="none"/>
<path d="M1054.6 47.7h4.9M1054.6 98.7h4.9M1054.6 149.6h4.9M1054.6 200.6h4.9M1054.6 251.6h4.9M1054.6 302.5h4.9M1054.6 353.5h4.9M1054.6 404.5h4.9M1054.6 428.4h4.9M1054.6 470.2h4.9M1054.6 512h4.9M1054.6 553.8h4.9M81.4 594.6v4.9M162.6 594.6v4.9M247.5 594.6v4.9M332.6 594.6v4.9M425.7 594.6v4.9M511.5 594.6v4.9M600.5 594.6v4.9M689.6 594.6v4.9M770.7 594.6v4.9M847.8 594.6v4.9M932.6 594.6v4.9M1013.6 594.6v4.9" stroke="#f0f0f0" stroke-width="1.1" fill="none"/>
<text x="1063.6" y="53.2" font-size="13.4" fill="#efefef" textLength="29.3" lengthAdjust="spacingAndGlyphs">62.5</text>
<text x="1063.6" y="104.2" font-size="13.4" fill="#efefef" textLength="29.3" lengthAdjust="spacingAndGlyphs">60.0</text>
<text x="1063.6" y="155.1" font-size="13.4" fill="#efefef" textLength="29.3" lengthAdjust="spacingAndGlyphs">57.5</text>
<text x="1063.6" y="206.1" font-size="13.4" fill="#efefef" textLength="29.3" lengthAdjust="spacingAndGlyphs">55.0</text>
<text x="1063.6" y="257.1" font-size="13.4" fill="#efefef" textLength="29.3" lengthAdjust="spacingAndGlyphs">52.5</text>
<text x="1063.6" y="308" font-size="13.4" fill="#efefef" textLength="29.3" lengthAdjust="spacingAndGlyphs">50.0</text>
<text x="1063.6" y="359" font-size="13.4" fill="#efefef" textLength="29.3" lengthAdjust="spacingAndGlyphs">47.5</text>
<text x="1063.6" y="410" font-size="13.4" fill="#efefef" textLength="29.3" lengthAdjust="spacingAndGlyphs">45.0</text>
<text x="1063.6" y="433.9" font-size="13.4" fill="#efefef" textLength="20.4" lengthAdjust="spacingAndGlyphs">2.0</text>
<text x="1063.6" y="475.7" font-size="13.4" fill="#efefef" textLength="20.4" lengthAdjust="spacingAndGlyphs">1.5</text>
<text x="1063.6" y="517.5" font-size="13.4" fill="#efefef" textLength="20.4" lengthAdjust="spacingAndGlyphs">1.0</text>
<text x="1063.6" y="559.3" font-size="13.4" fill="#efefef" textLength="20.4" lengthAdjust="spacingAndGlyphs">0.5</text>
<text transform="translate(1111.2 222.8) rotate(-90)" font-size="14" fill="#dcdcdc" text-anchor="middle" textLength="30.7" lengthAdjust="spacingAndGlyphs">Preis</text>
<text transform="translate(1101.3 513.9) rotate(-90)" font-size="14" fill="#dcdcdc" text-anchor="middle" textLength="58.6" lengthAdjust="spacingAndGlyphs">Volumen</text>
<text transform="translate(1121.6 507.4) rotate(-90)" font-size="14" fill="#dcdcdc" text-anchor="middle">10<tspan font-size="9.8" dy="-5.5">6</tspan></text>
<text transform="translate(160 633.7) rotate(-45)" font-size="14" fill="#efefef" text-anchor="middle" dy="4.8" textLength="66.1" lengthAdjust="spacingAndGlyphs">May 2025</text>
<text transform="translate(330 629.7) rotate(-45)" font-size="14" fill="#efefef" text-anchor="middle" dy="4.8" textLength="54.8" lengthAdjust="spacingAndGlyphs">Jul 2025</text>
<text transform="translate(508.9 632.8) rotate(-45)" font-size="14" fill="#efefef" text-anchor="middle" dy="4.8" textLength="63.7" lengthAdjust="spacingAndGlyphs">Sep 2025</text>
<text transform="translate(687 633.1) rotate(-45)" font-size="14" fill="#efefef" text-anchor="middle" dy="4.8" textLength="64.6" lengthAdjust="spacingAndGlyphs">Nov 2025</text>
<text transform="translate(845.2 631.2) rotate(-45)" font-size="14" fill="#efefef" text-anchor="middle" dy="4.8" textLength="59.2" lengthAdjust="spacingAndGlyphs">Jan 2026</text>
<text transform="translate(1011 632.8) rotate(-45)" font-size="14" fill="#efefef" text-anchor="middle" dy="4.8" textLength="63.7" lengthAdjust="spacingAndGlyphs">Mar 2026</text>
<rect x="915.1" y="434.4" width="10" height="9.8" fill="#ff7a35"/><text x="931" y="442.2" font-size="12.6" font-weight="bold" fill="#ff7a35" textLength="42.2" lengthAdjust="spacingAndGlyphs">EMA 8</text>
<rect x="915.1" y="451.1" width="10" height="9.8" fill="#e91e63"/><text x="931" y="459" font-size="12.6" font-weight="bold" fill="#e91e63" textLength="50.6" lengthAdjust="spacingAndGlyphs">EMA 34</text>
</svg>
</body></html>
